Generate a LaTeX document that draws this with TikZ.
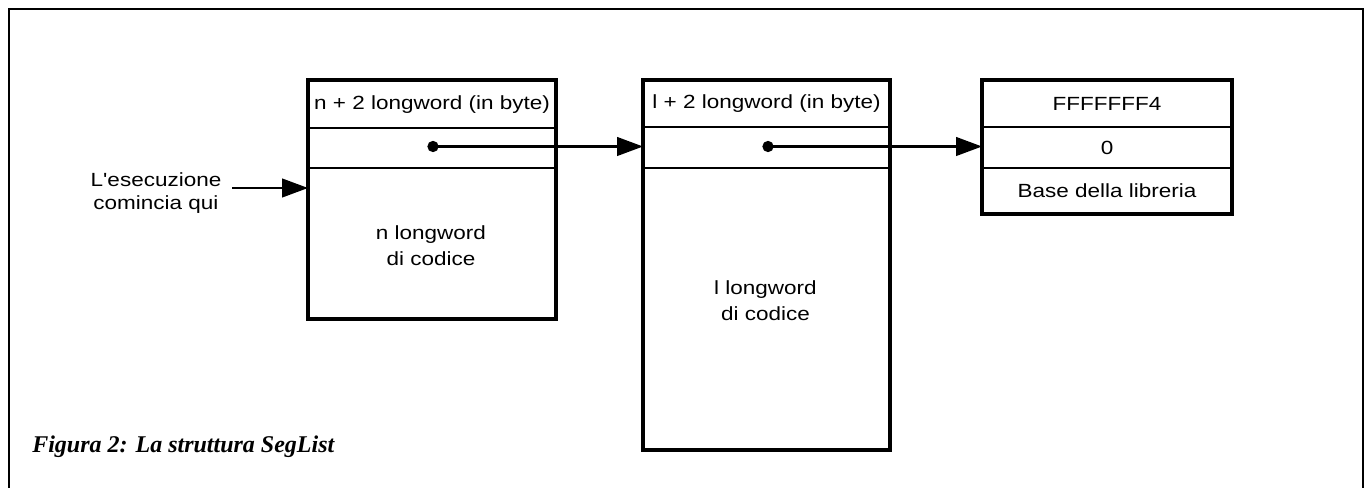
\documentclass[tikz,border=0pt]{standalone}
\usepackage{fontspec}
\newfontfamily\lab{Liberation Sans}[FakeStretch=1.18]
\newfontfamily\capfont{Liberation Serif}
\usetikzlibrary{arrows.meta}
\begin{document}
\begin{tikzpicture}[x=0.75pt,y=-0.75pt,
  cell/.style={draw, line width=1.5pt, anchor=north west, inner sep=0pt, font=\lab\fontsize{14.3}{17}\selectfont},
  outer/.style={line width=3pt},
  body/.style={align=center, inner sep=0pt, font=\lab\fontsize{14.3}{19.5}\selectfont},
  arr/.style={line width=1.7pt, -{Triangle[length=19.5pt,width=14pt]}},
  dot/.style={circle, fill, inner sep=0pt, minimum size=8.5pt}]
\useasboundingbox (0,0) rectangle (1366,488);
% frame
\draw[line width=1.1pt] (9,500) -- (9,9) -- (1363,9) -- (1363,500);
% box 1
\node[cell, minimum width=184.5pt, minimum height=35.25pt] (b1h) at (308,80) {n + 2 longword (in byte)};
\node[cell, minimum width=184.5pt, minimum height=30pt] (b1p) at (308,127) {};
\node[cell, minimum width=184.5pt, minimum height=112.5pt] (b1b) at (308,167) {};
\draw[outer] (b1h.north west) rectangle (b1b.south east);
\node[body] (b1t) at (431,246) {n longword\\di codice};
% box 2
\node[cell, minimum width=183.75pt, minimum height=34.5pt] (b2h) at (643,80) {l + 2 longword (in byte)};
\node[cell, minimum width=183.75pt, minimum height=30.75pt] (b2p) at (643,126) {};
\node[cell, minimum width=183.75pt, minimum height=210.75pt] (b2b) at (643,167) {};
\draw[outer] (b2h.north west) rectangle (b2b.south east);
\node[body] (b2t) at (765.5,301) {l longword\\di codice};
% box 3
\node[cell, minimum width=186pt, minimum height=34.5pt] (b3h) at (982,80) {FFFFFFF4};
\node[cell, minimum width=186pt, minimum height=30.75pt] (b3p) at (982,126) {0};
\node[cell, minimum width=186pt, minimum height=33.75pt] (b3b) at (982,167) {Base della libreria};
\draw[outer] (b3h.north west) rectangle (b3b.south east);
% pointers
\node[dot] (d1) at (433,146.5) {};
\node[dot] (d2) at (768,146.5) {};
\draw[arr] (d1.center) -- (d1.center -| b2p.west);
\draw[arr] (d2.center) -- (d2.center -| b3p.west);
% entry
\node[body, font=\lab\fontsize{14.3}{17.25}\selectfont] (lab) at (156,193.5) {L'esecuzione\\comincia qui};
\coordinate (e0) at (232,188);
\draw[arr] (e0) -- (e0 -| b1b.west);
% caption
\node[anchor=west, inner sep=0pt, font=\capfont\bfseries\itshape\fontsize{18}{20}\selectfont] (cap) at (32,447) {Figura 2: La struttura SegList};
\end{tikzpicture}
\end{document}
